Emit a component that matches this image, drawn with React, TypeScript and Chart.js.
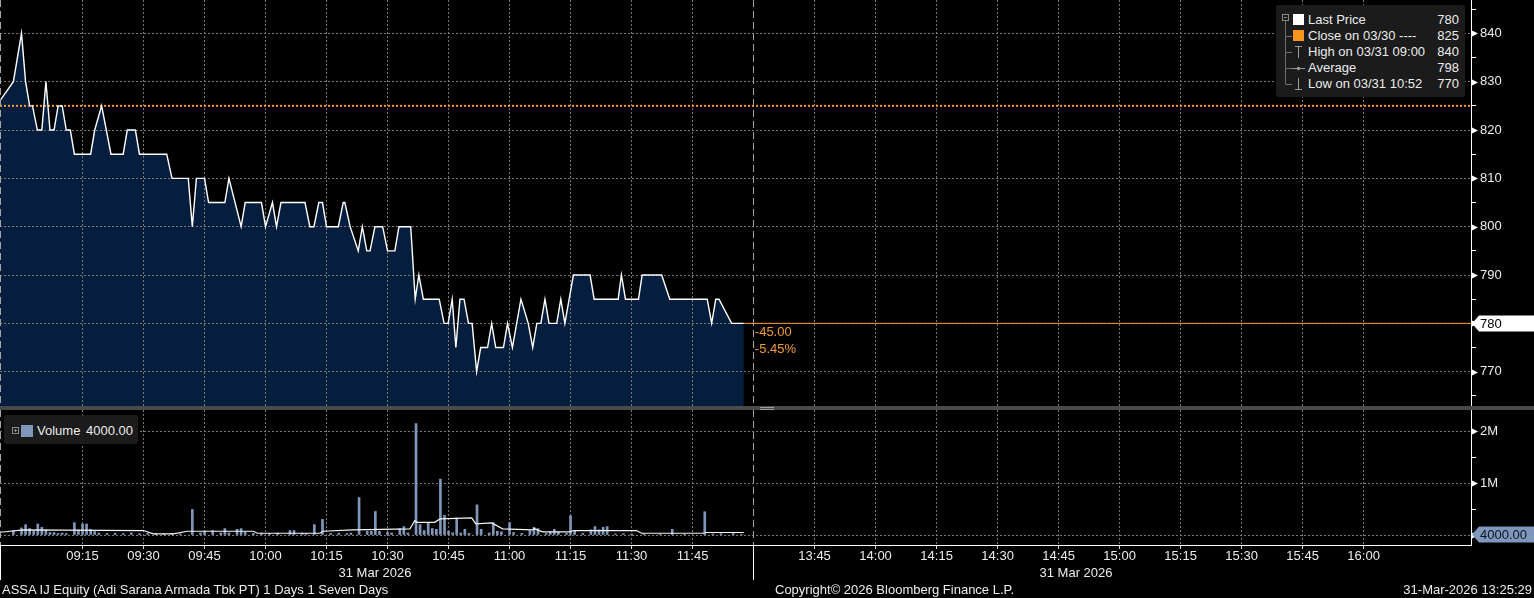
import React, { useEffect, useRef } from 'react';
import { Chart, registerables } from 'chart.js';

Chart.register(...registerables);

const FONT = '"Liberation Sans", Arial, Helvetica, sans-serif';

// ---- price series (minutes after 09:00, session 1) ----
const PRICE_MINUTES = [
  -6.2, -2, 0, 1, 2, 2.7, 3.9, 5, 6, 7,
  8, 9, 10, 11, 12, 13, 17, 18, 19.7, 22,
  25, 26, 28, 29, 35.7, 37, 41, 42, 43, 45,
  46, 50, 51, 54, 55, 59, 60, 61.7, 62.7, 63.8,
  69.7, 70.9, 71.9, 73.1, 74, 75, 77.9, 79.1, 79.5, 80.8,
  82.8, 83.8, 84.9, 85.7, 86.9, 88.8, 90, 91.8, 92.8, 95.7,
  96.8, 97.7, 98.8, 102.7, 103.9, 104.9, 105.9, 106.8, 107.8, 108.8,
  109.9, 110.8, 111.9, 112.9, 114.6, 115.6, 116.6, 118.5, 119.5, 120.7,
  122.8, 124.6, 125.7, 126.7, 127.7, 128.7, 129.7, 131.6, 132.6, 133.6,
  135.7, 139.8, 140.8, 146.7, 147.5, 148.5, 151.7, 152.6, 157.4, 159.4,
  168.6, 169.7, 170.7, 171.5, 174.6, 177.6,
];
const PRICE_VALUES = [
  825, 830, 840, 830, 825, 825, 820, 820, 830, 820,
  820, 825, 825, 820, 820, 815, 815, 820, 825, 815,
  815, 820, 820, 815, 815, 810, 810, 800, 810, 810,
  805, 805, 810, 800, 805, 805, 800, 805, 800, 805,
  805, 800, 800, 805, 805, 800, 800, 805, 805, 800,
  795, 800, 795, 795, 800, 800, 795, 795, 800, 800,
  785, 790, 785, 785, 780, 780, 785, 775, 785, 785,
  780, 780, 770, 775, 775, 780, 775, 775, 780, 775,
  785, 780, 775, 780, 780, 785, 780, 780, 785, 780,
  790, 790, 785, 785, 790, 785, 785, 790, 790, 785,
  785, 780, 785, 785, 780, 780,
];
const PREV_CLOSE = 825;
const LAST_PRICE = 780;
const CHANGE_TEXTS = ['-45.00', '-5.45%'];

// ---- volume (minutes after 09:00, shares) ----
const VOLUME_MINUTES = [
  -2, 0, 1, 2, 3, 4, 5, 6, 7, 8,
  9, 10, 11, 13, 14, 15, 16, 17, 18, 19,
  21, 23, 25, 27, 29, 31, 33, 35, 37, 39,
  42, 44, 45, 47, 49, 50, 51, 53, 54, 55,
  57, 59, 61, 63, 66, 67, 69, 70, 72, 74,
  76, 78, 80, 81, 83, 85, 86, 87, 88, 90,
  91, 93, 94, 95, 97, 98, 99, 100, 101, 102,
  103, 104, 105, 106, 107, 108, 109, 110, 112, 113,
  115, 116, 117, 118, 120, 121, 123, 125, 126, 127,
  129, 130, 131, 132, 134, 135, 136, 138, 140, 141,
  142, 143, 144, 146, 148, 150, 153, 157, 160, 163,
  168, 170, 172, 175, 177,
];
const VOLUME_VALUES = [
  86000, 137000, 200000, 124000, 72000, 213000, 149000, 99000, 48000, 48000,
  29000, 38000, 29000, 238000, 99000, 213000, 213000, 110000, 67000, 38000,
  30000, 35000, 28000, 40000, 25000, 30000, 35000, 25000, 30000, 22000,
  491000, 40000, 72000, 86000, 40000, 124000, 40000, 110000, 124000, 61000,
  30000, 35000, 30000, 38000, 86000, 86000, 38000, 30000, 200000, 301000,
  30000, 35000, 28000, 38000, 720000, 72000, 72000, 453000, 72000, 53000,
  40000, 124000, 162000, 40000, 2143000, 200000, 86000, 225000, 124000, 110000,
  1076000, 377000, 72000, 40000, 328000, 40000, 110000, 30000, 581000, 110000,
  40000, 238000, 72000, 61000, 238000, 48000, 30000, 86000, 149000, 124000,
  30000, 61000, 110000, 61000, 30000, 371000, 72000, 30000, 99000, 162000,
  99000, 149000, 162000, 20000, 25000, 20000, 20000, 15000, 110000, 15000,
  448000, 20000, 25000, 30000, 4000,
];
const VOLUME_AVG_MINUTES = [
  -5.3, 0.5, 30, 32.4, 37.3, 40.8, 57, 58, 73.4, 74.2,
  81.5, 95.5, 96.7, 97.2, 101.6, 102.9, 110.7, 111.7, 115.6, 118.3,
  125.7, 126, 128.1, 134.8, 135.8, 151.2, 152.5, 167.4, 168.4, 177.6,
];
const VOLUME_AVG_VALUES = [
  53000, 99000, 86000, 23000, 23000, 72000, 72000, 34000, 34000, 72000,
  99000, 118000, 276000, 244000, 244000, 309000, 328000, 213000, 232000, 118000,
  99000, 124000, 61000, 61000, 86000, 86000, 34000, 34000, 48000, 48000,
];
const LAST_VOLUME = 4000;
const LAST_VOLUME_TEXT = '4000.00';

// ---- axes ----
// x positions are minutes after 09:00; the 12:00-13:30 break is collapsed (session 2 shifted by 90)
const X_TICK_POSITIONS = [15, 30, 45, 60, 75, 90, 105, 120, 135, 150, 165, 195, 210, 225, 240, 255, 270, 285, 300, 315, 330];
const X_TICK_LABELS = ['09:15', '09:30', '09:45', '10:00', '10:15', '10:30', '10:45', '11:00', '11:15', '11:30', '11:45',
  '13:45', '14:00', '14:15', '14:30', '14:45', '15:00', '15:15', '15:30', '15:45', '16:00'];
const SESSION_BREAKS = [-5, 180];
const X_MIN = -5.29;
const X_MAX = 356.4;
const PRICE_TICKS = [765, 770, 775, 780, 785, 790, 795, 800, 805, 810, 815, 820, 825, 830, 835, 840, 845];
const PRICE_MIN = 762.9;
const PRICE_MAX = 846.9;
const VOLUME_TICKS = [0, 500000, 1000000, 1500000, 2000000];
const VOL_MIN = -192000;
const VOL_MAX = 2404000;

const LEGEND_LABELS = ['Last Price', 'Close on 03/30 ----', 'High on 03/31 09:00', 'Average', 'Low on 03/31 10:52'];
const LEGEND_VALUES = ['780', '825', '840', '798', '770'];
const DATE_LABEL = '31 Mar 2026';
const FOOTER_LEFT = 'ASSA IJ Equity (Adi Sarana Armada Tbk PT) 1 Days 1 Seven Days';
const FOOTER_MID = 'Copyright\u00A9 2026 Bloomberg Finance L.P.';
const FOOTER_RIGHT = '31-Mar-2026 13:25:29';

const GRID = '#7a7a7a';
const ORANGE = '#f29a34';
const NAVY = '#061e3d';
const VOL_COLOR = '#7f97ba';
const TEXT = '#ececec';

function drawArrowBox(ctx: any, xLeft: number, xRight: number, y: number, fill: string, text: string, color: string) {
  ctx.save();
  ctx.fillStyle = fill;
  ctx.beginPath();
  ctx.moveTo(xLeft, y);
  ctx.lineTo(xLeft + 7, y - 8);
  ctx.lineTo(xRight, y - 8);
  ctx.lineTo(xRight, y + 8);
  ctx.lineTo(xLeft + 7, y + 8);
  ctx.closePath();
  ctx.fill();
  ctx.fillStyle = color;
  ctx.font = `13px ${FONT}`;
  ctx.textBaseline = 'middle';
  ctx.textAlign = 'left';
  ctx.fillText(text, xLeft + 8, y + 1);
  ctx.restore();
}

function drawAxisMarkers(chart: any, isMajor: (v: number) => boolean) {
  const { ctx, chartArea, scales } = chart;
  const y = scales.y;
  ctx.save();
  ctx.fillStyle = '#ffffff';
  y.ticks.forEach((t: any) => {
    if (!isMajor(t.value)) return;
    const py = Math.round(y.getPixelForValue(t.value)) + 0.5;
    ctx.beginPath();
    ctx.moveTo(chartArea.right + 1, py - 3);
    ctx.lineTo(chartArea.right + 7, py);
    ctx.lineTo(chartArea.right + 1, py + 3);
    ctx.closePath();
    ctx.fill();
  });
  ctx.restore();
}

function drawSessions(chart: any, below: number) {
  const { ctx, chartArea, scales } = chart;
  ctx.save();
  ctx.lineWidth = 1;
  SESSION_BREAKS.forEach((m) => {
    const px = Math.round(scales.x.getPixelForValue(m)) - 0.5;
    ctx.strokeStyle = '#a5a5a5';
    ctx.setLineDash([7, 4]);
    ctx.beginPath();
    ctx.moveTo(px, chartArea.top);
    ctx.lineTo(px, chartArea.bottom);
    ctx.stroke();
    if (below > 0) {
      ctx.setLineDash([]);
      ctx.strokeStyle = '#ffffff';
      ctx.beginPath();
      ctx.moveTo(px, chartArea.bottom);
      ctx.lineTo(px, chartArea.bottom + below);
      ctx.stroke();
    }
  });
  ctx.restore();
}

const xTicksBuilder = (axis: any) => {
  axis.ticks = X_TICK_POSITIONS.map((v) => ({ value: v }));
};

export default function App() {
  const priceRef = useRef<HTMLCanvasElement>(null);
  const volRef = useRef<HTMLCanvasElement>(null);

  useEffect(() => {
    document.body.style.margin = '0';
    document.body.style.background = '#000';
    Chart.defaults.font.family = FONT;

    const lastMinute = PRICE_MINUTES[PRICE_MINUTES.length - 1];

    const pricePlugin = {
      id: 'priceDecor',
      afterDraw(chart: any) {
        const { ctx, chartArea, scales } = chart;
        drawSessions(chart, 0);
        drawAxisMarkers(chart, (v) => v % 10 === 0);
        const px = scales.x.getPixelForValue(lastMinute);
        const py = scales.y.getPixelForValue(LAST_PRICE);
        ctx.save();
        ctx.fillStyle = ORANGE;
        ctx.font = `13px ${FONT}`;
        ctx.textBaseline = 'middle';
        ctx.textAlign = 'left';
        ctx.fillText(CHANGE_TEXTS[0], px + 11, py + 9);
        ctx.fillText(CHANGE_TEXTS[1], px + 11, py + 26);
        ctx.restore();
        drawArrowBox(ctx, chartArea.right + 1, chart.width, Math.round(py) + 0.5, '#ffffff', String(LAST_PRICE), '#000000');
      },
    };

    const volPlugin = {
      id: 'volDecor',
      afterDraw(chart: any) {
        const { ctx, chartArea, scales } = chart;
        drawSessions(chart, 35);
        drawAxisMarkers(chart, (v) => v % 1000000 === 0);
        const py = scales.y.getPixelForValue(LAST_VOLUME);
        drawArrowBox(ctx, chartArea.right + 1, chart.width, Math.round(py) - 0.5, VOL_COLOR, LAST_VOLUME_TEXT, '#0a1424');
      },
    };

    const priceChart = new Chart(priceRef.current as HTMLCanvasElement, {
      type: 'line',
      data: {
        datasets: [
          {
            label: 'Last Price',
            data: PRICE_MINUTES.map((m, i) => ({ x: m, y: PRICE_VALUES[i] })),
            borderColor: '#ffffff',
            borderWidth: 1.4,
            backgroundColor: NAVY,
            fill: 'start',
            pointRadius: 0,
            tension: 0,
            order: 0,
          },
          {
            label: 'Close on 03/30',
            data: [{ x: X_MIN, y: PREV_CLOSE }, { x: X_MAX, y: PREV_CLOSE }],
            borderColor: ORANGE,
            borderWidth: 2,
            borderDash: [2, 2],
            pointRadius: 0,
            fill: false,
            order: 1,
          },
          {
            label: 'Last',
            data: [{ x: lastMinute, y: LAST_PRICE }, { x: X_MAX, y: LAST_PRICE }],
            borderColor: ORANGE,
            borderWidth: 1,
            pointRadius: 0,
            fill: false,
            order: 2,
          },
        ],
      } as any,
      options: {
        animation: false,
        responsive: false,
        maintainAspectRatio: false,
        devicePixelRatio: 1,
        events: [],
        layout: { padding: 0 },
        plugins: {
          legend: { display: false },
          tooltip: { enabled: false },
          filler: { drawTime: 'beforeDraw' },
        } as any,
        scales: {
          x: {
            type: 'linear',
            min: X_MIN,
            max: X_MAX,
            offset: false,
            afterBuildTicks: xTicksBuilder,
            afterFit: (s: any) => { s.height = 0; s.paddingLeft = 0; s.paddingRight = 0; },
            ticks: { display: false, autoSkip: false },
            grid: { color: GRID, drawTicks: false, offset: false },
            border: { display: false, dash: [2, 2] },
          },
          y: {
            type: 'linear',
            position: 'right',
            min: PRICE_MIN,
            max: PRICE_MAX,
            afterBuildTicks: (axis: any) => { axis.ticks = PRICE_TICKS.map((v) => ({ value: v })); },
            afterFit: (s: any) => { s.width = 63; s.paddingTop = 0; s.paddingBottom = 0; },
            ticks: {
              autoSkip: false,
              color: TEXT,
              font: { size: 13 },
              padding: 4,
              callback: (v: any) => (Number(v) % 10 === 0 ? String(v) : ''),
            },
            grid: {
              color: (c: any) => (c.tick && c.tick.value % 10 === 0 ? GRID : 'rgba(0,0,0,0)'),
              tickColor: (c: any) => (c.tick && c.tick.value % 10 === 0 ? 'rgba(0,0,0,0)' : '#ffffff'),
              tickLength: 5,
            },
            border: { display: true, color: '#ffffff', width: 1, dash: [2, 2] },
          },
        } as any,
      },
      plugins: [pricePlugin],
    });

    const volChart = new Chart(volRef.current as HTMLCanvasElement, {
      type: 'line',
      data: {
        datasets: [
          {
            type: 'line',
            label: 'Volume average',
            data: VOLUME_AVG_MINUTES.map((m, i) => ({ x: m, y: VOLUME_AVG_VALUES[i] })),
            borderColor: '#f2f2f2',
            borderWidth: 1.2,
            pointRadius: 0,
            fill: false,
            tension: 0,
            order: 0,
          },
          {
            type: 'bar',
            label: 'Volume',
            data: VOLUME_MINUTES.map((m, i) => ({ x: m, y: VOLUME_VALUES[i] })),
            backgroundColor: VOL_COLOR,
            barThickness: 2,
            order: 1,
          },
        ],
      } as any,
      options: {
        animation: false,
        responsive: false,
        maintainAspectRatio: false,
        devicePixelRatio: 1,
        events: [],
        layout: { padding: 0 },
        plugins: { legend: { display: false }, tooltip: { enabled: false } },
        scales: {
          x: {
            type: 'linear',
            min: X_MIN,
            max: X_MAX,
            offset: false,
            afterBuildTicks: xTicksBuilder,
            afterFit: (s: any) => { s.height = 53; s.paddingLeft = 0; s.paddingRight = 0; },
            ticks: {
              autoSkip: false,
              maxRotation: 0,
              minRotation: 0,
              color: TEXT,
              font: { size: 13 },
              padding: 0,
              callback: (_v: any, i: number) => X_TICK_LABELS[i],
            },
            grid: { color: GRID, tickColor: '#d8d8d8', tickLength: 4, offset: false },
            border: { display: true, color: '#ffffff', width: 1, dash: [2, 2] },
          },
          y: {
            type: 'linear',
            position: 'right',
            min: VOL_MIN,
            max: VOL_MAX,
            afterBuildTicks: (axis: any) => { axis.ticks = VOLUME_TICKS.map((v) => ({ value: v })); },
            afterFit: (s: any) => { s.width = 63; s.paddingTop = 0; s.paddingBottom = 0; },
            ticks: {
              autoSkip: false,
              color: TEXT,
              font: { size: 13 },
              padding: 4,
              callback: (v: any) => (Number(v) === 0 || Number(v) % 1000000 !== 0 ? '' : `${Number(v) / 1000000}M`),
            },
            grid: {
              color: (c: any) => (c.tick && c.tick.value % 1000000 === 0 ? GRID : 'rgba(0,0,0,0)'),
              tickColor: (c: any) => (c.tick && c.tick.value % 1000000 === 0 ? 'rgba(0,0,0,0)' : '#ffffff'),
              tickLength: 5,
            },
            border: { display: true, color: '#ffffff', width: 1, dash: [2, 2] },
          },
        } as any,
      },
      plugins: [volPlugin],
    });

    return () => {
      priceChart.destroy();
      volChart.destroy();
    };
  }, []);

  const rowCenters = [20, 36, 52, 68, 84];
  const textStyle: React.CSSProperties = {
    position: 'absolute',
    color: TEXT,
    fontSize: 13,
    lineHeight: '16px',
    whiteSpace: 'nowrap',
  };
  const smallText: React.CSSProperties = {
    position: 'absolute',
    color: TEXT,
    fontSize: 13,
    lineHeight: '15px',
    whiteSpace: 'nowrap',
  };

  return (
    <div
      style={{
        position: 'fixed',
        left: 0,
        top: 0,
        width: 1534,
        height: 598,
        background: '#000',
        overflow: 'hidden',
        fontFamily: FONT,
      }}
    >
      <canvas ref={priceRef} width={1534} height={406} style={{ position: 'absolute', left: 0, top: 0, width: 1534, height: 406 }} />
      <div style={{ position: 'absolute', left: 0, top: 406, width: 1534, height: 4, background: '#4a4a4a' }} />
      <div style={{ position: 'absolute', left: 760, top: 407, width: 14, height: 1, background: '#9c9c9c' }} />
      <div style={{ position: 'absolute', left: 760, top: 409, width: 14, height: 1, background: '#9c9c9c' }} />
      <canvas ref={volRef} width={1534} height={188} style={{ position: 'absolute', left: 0, top: 410, width: 1534, height: 188 }} />

      {/* price legend */}
      <div style={{ position: 'absolute', left: 1276, top: 5, width: 189, height: 92, background: '#1b1b1b', borderRadius: 3 }} />
      <svg style={{ position: 'absolute', left: 1276, top: 0 }} width={40} height={100}>
        <rect x={6.5} y={14.5} width={6} height={6} fill="none" stroke="#8a8a8a" strokeWidth={1} />
        <line x1={8} y1={17.5} x2={11} y2={17.5} stroke="#8a8a8a" strokeWidth={1} />
        <line x1={9.5} y1={21} x2={9.5} y2={84} stroke="#6f6f6f" strokeWidth={1} />
        {[36, 52, 68, 84].map((y) => (
          <line key={y} x1={9.5} y1={y + 0.5} x2={16} y2={y + 0.5} stroke="#6f6f6f" strokeWidth={1} />
        ))}
        <rect x={17} y={14} width={11} height={11} fill="#ffffff" />
        <rect x={17} y={30} width={11} height={11} fill="#f7941d" />
        <line x1={22.5} y1={46} x2={22.5} y2={58} stroke="#9a9a9a" strokeWidth={1} />
        <line x1={19} y1={46.5} x2={26} y2={46.5} stroke="#9a9a9a" strokeWidth={1} />
        <line x1={16} y1={68.5} x2={29} y2={68.5} stroke="#9a9a9a" strokeWidth={1} />
        <circle cx={22.5} cy={68.5} r={1.8} fill="#9a9a9a" />
        <line x1={22.5} y1={78} x2={22.5} y2={90} stroke="#9a9a9a" strokeWidth={1} />
        <line x1={19} y1={89.5} x2={26} y2={89.5} stroke="#9a9a9a" strokeWidth={1} />
      </svg>
      {LEGEND_LABELS.map((label, i) => (
        <div key={label} style={{ ...textStyle, left: 1308, top: rowCenters[i] - 8 }}>{label}</div>
      ))}
      {LEGEND_VALUES.map((v, i) => (
        <div key={`v${i}`} style={{ ...textStyle, left: 1400, width: 59, textAlign: 'right', top: rowCenters[i] - 8 }}>{v}</div>
      ))}

      {/* volume legend */}
      <div style={{ position: 'absolute', left: 4, top: 415, width: 134, height: 29, background: '#1b1b1b', borderRadius: 3 }} />
      <svg style={{ position: 'absolute', left: 0, top: 410 }} width={40} height={40}>
        <rect x={12.5} y={17.5} width={6} height={6} fill="none" stroke="#8a8a8a" strokeWidth={1} />
        <line x1={14} y1={20.5} x2={17} y2={20.5} stroke="#8a8a8a" strokeWidth={1} />
        <line x1={15.5} y1={19} x2={15.5} y2={22} stroke="#8a8a8a" strokeWidth={1} />
        <rect x={21} y={15} width={12} height={12} fill={VOL_COLOR} />
      </svg>
      <div style={{ ...textStyle, left: 37, top: 423 }}>Volume</div>
      <div style={{ ...textStyle, left: 86, top: 423 }}>{LAST_VOLUME_TEXT}</div>

      {/* date labels & footer */}
      <div style={{ ...smallText, left: 275, width: 200, textAlign: 'center', top: 565 }}>{DATE_LABEL}</div>
      <div style={{ ...smallText, left: 976, width: 200, textAlign: 'center', top: 565 }}>{DATE_LABEL}</div>
      <div style={{ ...smallText, left: 2, top: 582 }}>{FOOTER_LEFT}</div>
      <div style={{ ...smallText, left: 775, top: 582 }}>{FOOTER_MID}</div>
      <div style={{ ...smallText, right: 2, top: 582 }}>{FOOTER_RIGHT}</div>
    </div>
  );
}
